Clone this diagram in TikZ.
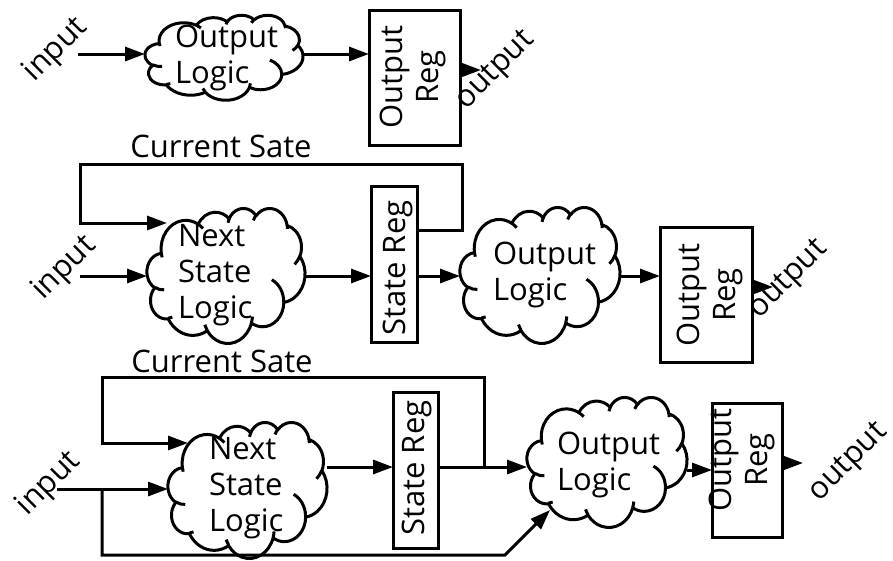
\documentclass[tikz,border=0pt]{standalone}
\usepackage{fontspec}
\setmainfont{Open Sans}
\usetikzlibrary{arrows.meta,calc}
% elliptical arc given by radii, visual start angle and visual sweep (DrawingML style)
\newcommand\ooarc[4]{arc[x radius=#1, y radius=#2, start angle={atan2((#1)*sin(#3),(#2)*cos(#3))}, delta angle={mod(atan2((#1)*sin((#3)+(#4)),(#2)*cos((#3)+(#4)))-atan2((#1)*sin(#3),(#2)*cos(#3))+720,360)}]}
% cloud: name, centre x, centre y, width, height
\newcommand\oocloud[5]{%
  \node[cframe, minimum width=#4pt, minimum height=#5pt] (#1) at (#2,#3) {};
  \pgfmathsetmacro\ocx{#4/432}\pgfmathsetmacro\ocy{#5/432}%
  \begin{scope}[shift={(#2-#4/2,#3-#5/2)}, x=\ocx pt, y=-\ocy pt]
    \draw[cloudline, fill=white] (39.00,143.70)
      \ooarc{67.53}{91.90}{-190.4875}{123.7805}
      \ooarc{53.33}{72.67}{-144.1024}{89.9452}
      \ooarc{43.65}{59.45}{-145.8079}{99.7230}
      \ooarc{48.57}{65.95}{-130.9861}{117.2417}
      \ooarc{53.33}{72.73}{-78.7089}{109.0269}
      \ooarc{67.75}{92.20}{-46.2673}{130.2690}
      \ooarc{57.85}{78.67}{0.6250}{114.0333}
      \ooarc{67.52}{92.15}{22.4516}{115.1726}
      \ooarc{77.20}{105.43}{66.2426}{75.7110}
      \ooarc{43.60}{59.18}{-274.9421}{146.7356}
      \ooarc{43.45}{59.45}{-246.8285}{152.5189} -- cycle;
    \draw[cloudline]
      (46.93,261.77) \ooarc{43.45}{59.45}{86.7420}{26.4295}
      (69.28,348.99) \ooarc{43.60}{59.18}{73.6105}{11.4475}
      (164.78,390.90) \ooarc{67.52}{92.15}{137.6242}{14.0811}
      (288.27,347.51) \ooarc{67.52}{92.15}{6.4533}{15.9984}
      (341.29,229.54) \ooarc{57.85}{78.67}{-70.2924}{70.9174}
      (417.98,153.54) \ooarc{53.33}{72.73}{30.3180}{27.7515}
      (383.24,54.26) \ooarc{48.57}{65.95}{-13.7443}{14.8589}
      (290.78,39.52) \ooarc{48.57}{65.95}{-149.1815}{18.1954}
      (221.41,47.20) \ooarc{43.65}{59.45}{-163.4943}{17.6864}
      (140.00,51.92) \ooarc{67.53}{91.90}{-66.7070}{12.3194}
      (41.27,157.89) \ooarc{67.53}{91.90}{157.6544}{11.8582};
  \end{scope}}
\begin{document}
\begin{tikzpicture}[x=1pt,y=-1pt,
  font=\fontsize{31}{36}\selectfont,
  cloudline/.style={line width=3pt, line join=round},
  cframe/.style={rectangle, inner sep=0pt, outer sep=0pt},
  arr/.style={line width=3pt,-{Triangle[length=20pt,width=14pt]}},
  box/.style={draw, line width=3pt, inner sep=0pt, outer sep=0pt, fill=white},
  txt/.style={inner sep=0pt, outer sep=0pt},
  rtxt/.style={inner sep=0pt, outer sep=0pt, rotate=90, align=center},
  dtxt/.style={inner sep=0pt, outer sep=0pt, rotate=45},
  ctxt/.style={inner sep=0pt, outer sep=0pt, align=left, anchor=base west}]
\useasboundingbox (0,0) rectangle (893,560);
% ---------- top ----------
\oocloud{c1}{224}{57.5}{158}{85}
\node[ctxt] (c1t) at (175,83) {Output\\Logic};
\node[box, minimum width=91pt, minimum height=135pt] (or1) at (414.5,77.5) {};
\node[rtxt] (or1t) at (413,77) {Output\\Reg};
\node[dtxt] (in1t) at (56,50) {input};
\node[dtxt] (out1t) at (496,71) {output};
\coordinate (in1) at (78,54);
\coordinate (o1) at (481,70);
\draw[arr] (in1) -- (in1 -| c1.west);
\draw[arr] (c1.east |- in1) -- (or1.west |- in1);
\draw[arr] (or1.east |- o1) -- (o1);
% ---------- middle ----------
\oocloud{c2}{226}{275.5}{158}{135}
\node[ctxt] (c2t) at (178,318) {Next\\State\\Logic};
\node[box, minimum width=46pt, minimum height=156pt] (sr1) at (394,264) {};
\node[rtxt] (sr1t) at (398,268) {State Reg};
\oocloud{c4}{540}{275}{160}{136}
\node[ctxt] (c4t) at (493,300) {Output\\Logic};
\node[box, minimum width=92pt, minimum height=135pt] (or2) at (706,294.5) {};
\node[rtxt] (or2t) at (710,295) {Output\\Reg};
\node[txt, anchor=base] (cs1) at (221,157) {Current Sate};
\node[dtxt] (in2t) at (64.5,268.5) {input};
\node[dtxt] (out2t) at (789,280) {output};
\coordinate (fbs1) at (0,230);
\coordinate (fbr1) at (462,164);
\coordinate (fbl1) at (80,223);
\coordinate (fbt1) at (167,223);
\coordinate (in2) at (80,276);
\coordinate (o2) at (773,287);
\draw[arr] (sr1.east |- fbs1) -| (fbr1) -| (fbl1) -- (fbt1);
\draw[arr] (in2) -- (in2 -| c2.west);
\draw[arr] (c2.east |- in2) -- (sr1.west |- in2);
\draw[arr] (sr1.east |- in2) -- (c4.west |- in2);
\draw[arr] (c4.east |- in2) -- (or2.west |- in2);
\draw[arr] (or2.east |- o2) -- (o2);
% ---------- bottom ----------
\oocloud{c3}{247.5}{490}{159}{136}
\node[ctxt] (c3t) at (209,531) {Next\\State\\Logic};
\node[box, minimum width=45pt, minimum height=156pt] (sr3) at (415.5,470) {};
\node[rtxt] (sr3t) at (417,468) {State Reg};
\oocloud{c5}{607}{462}{160}{130}
\node[ctxt] (c5t) at (557,490) {Output\\Logic};
\node[box, minimum width=70pt, minimum height=134pt] (or3) at (747,470) {};
\node[rtxt] (or3t) at (742,460) {Output\\Reg};
\node[txt, anchor=base] (cs2) at (222,372) {Current Sate};
\node[dtxt] (in3t) at (49,484) {input};
\node[dtxt] (out3t) at (849,463) {output};
\coordinate (m3) at (0,467);
\coordinate (j3) at (484,467);
\coordinate (fbr3) at (102,377);
\coordinate (fbt3) at (188,443);
\coordinate (in3) at (57,489);
\coordinate (br3) at (102,489);
\coordinate (bc3) at (505,555);
\coordinate (bt3) at (550,510);
\coordinate (m5) at (0,470);
\coordinate (o3y) at (0,463);
\coordinate (o3) at (803,463);
\draw[arr] (j3) |- (fbr3) |- (fbt3);
\draw[arr] (in3) -- (in3 -| c3.west);
\draw[arr] (br3) |- (bc3) -- (bt3);
\draw[arr] (c3.east |- m3) -- (sr3.west |- m3);
\draw[arr] (sr3.east |- m3) -- (c5.west |- m3);
\draw[arr] (c5.east |- m5) -- (or3.west |- m5);
\draw[arr] (or3.east |- o3y) -- (o3);
\end{tikzpicture}
\end{document}
